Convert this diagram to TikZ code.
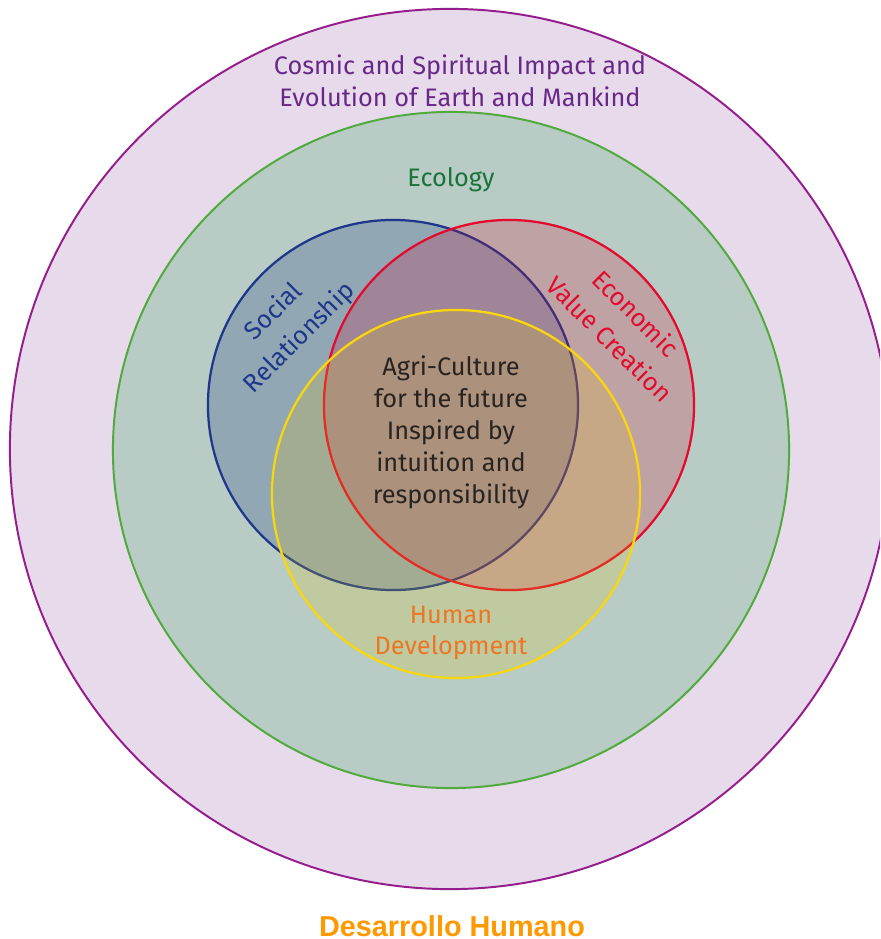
\documentclass[tikz,border=0pt]{standalone}
\usepackage{fontspec}
\setmainfont{Fira Sans}
\newfontfamily\arialfont{Liberation Sans}
\usetikzlibrary{positioning}

\definecolor{cosmicfill}{RGB}{230,218,235}
\definecolor{cosmicline}{RGB}{150,30,140}
\definecolor{cosmictext}{RGB}{105,40,135}
\definecolor{ecofill}{RGB}{184,203,196}
\definecolor{ecoline}{RGB}{80,170,60}
\definecolor{ecotext}{RGB}{25,115,60}
\definecolor{socialline}{RGB}{30,55,140}
\definecolor{socialfill}{RGB}{20,50,130}
\definecolor{econline}{RGB}{228,10,45}
\definecolor{econfill}{RGB}{220,0,40}
\definecolor{humanline}{RGB}{250,215,10}
\definecolor{humanfill}{RGB}{230,200,0}
\definecolor{humantext}{RGB}{238,118,35}
\definecolor{coretext}{RGB}{40,35,32}
\definecolor{dhorange}{RGB}{255,153,0}

\begin{document}
\begin{tikzpicture}[x=0.025cm,y=-0.025cm,
                    ring/.style={circle,draw,inner sep=0pt,line width=1.6pt},
                    venn text/.style={font=\fontsize{18}{22.7}\selectfont,align=center,inner sep=0pt}]
      \clip (0,0) rectangle (880,939);
      \fill[white] (0,0) rectangle (880,939);

      % circles
      \node[ring, draw=cosmicline, fill=cosmicfill, line width=1.4pt, minimum size=22cm] (cosmos) at (450,449) {};
      \node[ring, draw=ecoline, fill=ecofill, line width=1.4pt, minimum size=16.9cm] (ecology) at (451,450) {};
      \node[ring, draw=socialline, fill=socialfill, fill opacity=0.23, minimum size=9.25cm] (social) at (393,405) {};
      \node[ring, draw=econline, fill=econfill, fill opacity=0.2, minimum size=9.25cm] (economic) at (509,405) {};
      \node[ring, draw=humanline, fill=humanfill, fill opacity=0.18, minimum size=9.2cm] (human) at (456,494) {};

      % labels
      \node[venn text, text=cosmictext] (cosmictxt) at (460,81) {Cosmic and Spiritual Impact and\\Evolution of Earth and Mankind};
      \node[venn text, text=ecotext] (ecotxt) at (451,180) {Ecology};
      \node[venn text, text=socialline, rotate=45, font=\fontsize{18}{26}\selectfont] (socialtxt) at (287,325) {Social\\Relationship};
      \node[venn text, text=econline, rotate=-45, font=\fontsize{18}{26}\selectfont] (econtxt) at (623,326) {Economic\\Value Creation};
      \node[venn text, text=coretext] (coretxt) at (451,432) {Agri-Culture\\for the future\\Inspired by\\intuition and\\responsibility};
      \node[venn text, text=humantext] (humantxt) at (451,633) {Human\\Development};
      \node[font=\arialfont\bfseries\fontsize{20.5}{24}\selectfont, text=dhorange, inner sep=0pt] (dh) at (452,926) {Desarrollo Humano};
\end{tikzpicture}
\end{document}
